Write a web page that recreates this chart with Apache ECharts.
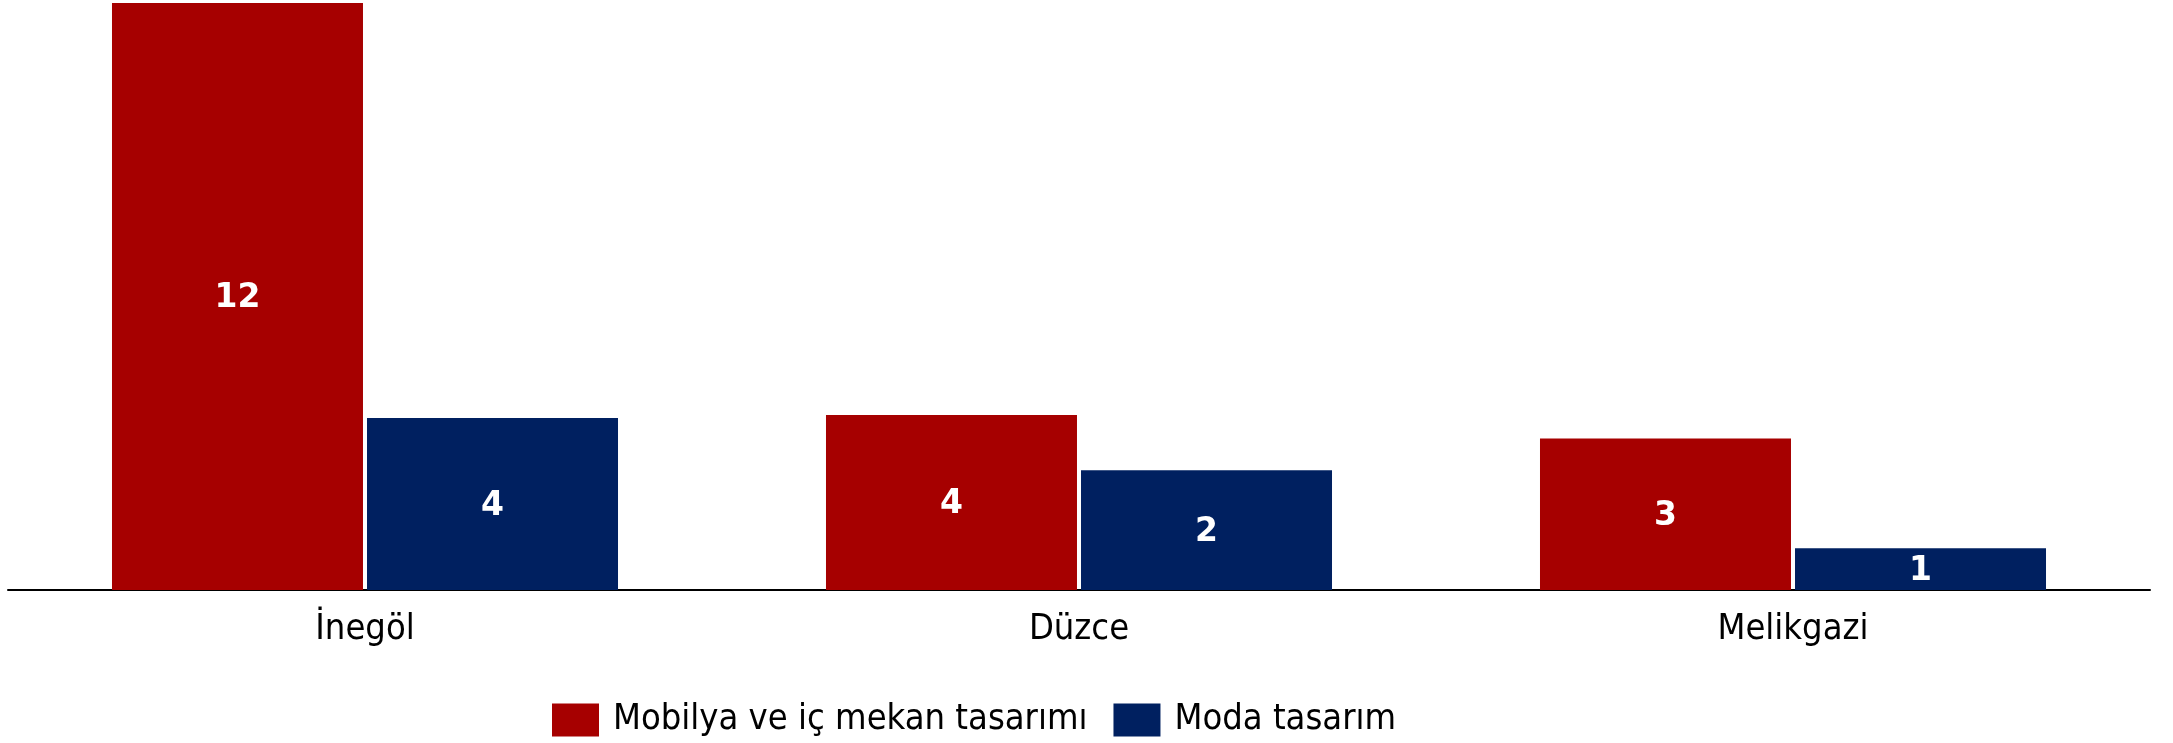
<!DOCTYPE html>
<html>
<head>
<meta charset="utf-8">
<title>Tasarım</title>
<script src="https://cdn.jsdelivr.net/npm/echarts@6/dist/echarts.min.js"></script>
<style>
html, body { margin: 0; padding: 0; background: #fff; }
#chart1 { width: 2173px; height: 743px; }
</style>
</head>
<body>
<div id="chart1"></div>
<script>
// kategoriler ve seriler
var categories = ['İnegöl', 'Düzce', 'Melikgazi'];
var seriesNames = ['Mobilya ve iç mekan tasarımı', 'Moda tasarım'];
// bar heights (share of tallest bar, %)
var mobilyaHeights = [100, 29.8, 25.8];
var modaHeights = [29.3, 20.4, 7.1];
// numbers written inside the bars
var mobilyaCounts = [12, 4, 3];
var modaCounts = [4, 2, 1];

var myChart = echarts.init(document.getElementById('chart1'));
var fontName = '"DejaVu Sans Condensed", "DejaVu Sans", sans-serif';

function barLabel(counts) {
	return {
		show: true,
		position: 'inside',
		offset: [0, 2],
		color: '#fff',
		fontFamily: '"DejaVu Sans", sans-serif',
		fontWeight: 'bold',
		fontSize: 33,
		formatter: function (p) { return counts[p.dataIndex]; }
	};
}

var option = {
	animation: false,
	color: ['#A60000', '#002060'],
	grid: { left: 8, right: 23, top: 3, bottom: 153 },
	legend: {
		data: seriesNames,
		left: 547,
		top: 697,
		icon: 'rect',
		itemWidth: 47,
		itemHeight: 33,
		itemGap: 26,
		textStyle: {
			color: '#000',
			fontFamily: fontName,
			fontSize: 36,
			padding: [0, 0, 0, 9]
		}
	},
	xAxis: {
		type: 'category',
		data: categories,
		axisLine: { lineStyle: { color: '#000', width: 2 } },
		axisTick: { show: false },
		axisLabel: {
			color: '#000',
			fontFamily: fontName,
			fontSize: 36,
			margin: 22
		}
	},
	yAxis: {
		type: 'value',
		min: 0,
		max: 100,
		show: false,
		splitLine: { show: false }
	},
	series: [
		{
			name: seriesNames[0],
			type: 'bar',
			barWidth: 251,
			barGap: '1.6%',
			data: mobilyaHeights,
			label: barLabel(mobilyaCounts)
		},
		{
			name: seriesNames[1],
			type: 'bar',
			barWidth: 251,
			barGap: '1.6%',
			data: modaHeights,
			label: barLabel(modaCounts)
		}
	]
};
myChart.setOption(option);
</script>
</body>
</html>
